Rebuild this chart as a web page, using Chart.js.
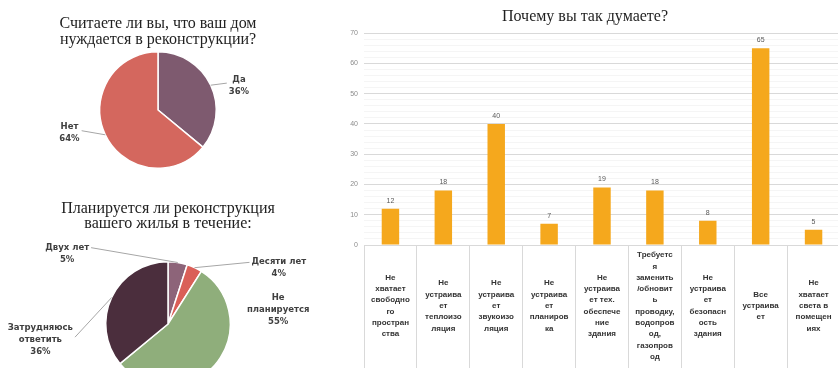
<!DOCTYPE html>
<html>
<head>
<meta charset="utf-8">
<script src="https://cdn.jsdelivr.net/npm/chart.js@4"></script>
<style>
  html, body { margin: 0; padding: 0; width: 838px; height: 368px; overflow: hidden; background: #fff; }
  canvas { position: absolute; display: block; }
</style>
</head>
<body>
<canvas id="pieNeed" width="320" height="185" style="left:0;top:0"></canvas>
<canvas id="piePlan" width="340" height="197" style="left:0;top:190px"></canvas>
<canvas id="barWhy" width="510" height="372" style="left:330px;top:0"></canvas>
<script>
// Survey answers
const needTitle = ['Считаете ли вы, что ваш дом', 'нуждается в реконструкции?'];
const needLabels = [['Да'], ['Нет']];
const needValues = [36, 64];

const planTitle = ['Планируется ли реконструкция', 'вашего жилья в течение:'];
const planLabels = [['Двух лет'], ['Десяти лет'], ['Не', 'планируется'], ['Затрудняюсь', 'ответить']];
const planValues = [5, 4, 55, 36];

const whyTitle = 'Почему вы так думаете?';
const whyLabels = [
  ['Не', 'хватает', 'свободно', 'го', 'простран', 'ства'],
  ['Не', 'устраива', 'ет', 'теплоизо', 'ляция'],
  ['Не', 'устраива', 'ет', 'звукоизо', 'ляция'],
  ['Не', 'устраива', 'ет', 'планиров', 'ка'],
  ['Не', 'устраива', 'ет тех.', 'обеспече', 'ние', 'здания'],
  ['Требуетс', 'я', 'заменить', '/обновит', 'ь', 'проводку,', 'водопров', 'од,', 'газопров', 'од'],
  ['Не', 'устраива', 'ет', 'безопасн', 'ость', 'здания'],
  ['Все', 'устраива', 'ет'],
  ['Не', 'хватает', 'света в', 'помещен', 'иях']
];
const whyValues = [12, 18, 40, 7, 19, 18, 8, 65, 5];
const whyMax = 70;

// Slice labels with leader lines, placed relative to the pie centre (in radii)
const pieLabels = {
  id: 'pieLabels',
  afterDatasetsDraw(chart, args, opts) {
    const ctx = chart.ctx;
    const meta = chart.getDatasetMeta(0);
    const values = chart.data.datasets[0].data;
    ctx.save();
    ctx.font = opts.font;
    ctx.textAlign = 'center';
    ctx.textBaseline = 'middle';
    meta.data.forEach((arc, i) => {
      const p = opts.places[i];
      const r = arc.outerRadius;
      const cx = arc.x + p.dx * r;
      const cy = arc.y + p.dy * r;
      const lines = [...chart.data.labels[i], values[i] + '%'];
      const top = cy - (lines.length - 1) * opts.lineHeight / 2;
      if (p.leader) {
        const mid = (arc.startAngle + arc.endAngle) / 2;
        const ax = arc.x + Math.cos(mid) * r;
        const ay = arc.y + Math.sin(mid) * r;
        const w = Math.max(...lines.map(t => ctx.measureText(t).width));
        const ex = cx > ax ? cx - w / 2 - 2 : cx + w / 2 + 2;
        ctx.strokeStyle = opts.lineColor;
        ctx.lineWidth = 1;
        ctx.beginPath();
        ctx.moveTo(ax, ay);
        ctx.lineTo(ex, cy + p.ly);
        ctx.stroke();
      }
      ctx.fillStyle = opts.color;
      lines.forEach((t, k) => ctx.fillText(t, cx, top + k * opts.lineHeight));
    });
    ctx.restore();
  }
};

// Value printed above each bar
const barValues = {
  id: 'barValues',
  afterDatasetsDraw(chart) {
    const ctx = chart.ctx;
    const meta = chart.getDatasetMeta(0);
    const data = chart.data.datasets[0].data;
    ctx.save();
    ctx.font = '7px "Liberation Sans", Arial, sans-serif';
    ctx.fillStyle = '#595959';
    ctx.textAlign = 'center';
    ctx.textBaseline = 'middle';
    meta.data.forEach((bar, i) => ctx.fillText(String(data[i]), bar.x, bar.y - 8));
    ctx.restore();
  }
};

const serif = '"Liberation Serif", "DejaVu Serif", serif';
const labelFont = 'bold 8.5px "DejaVu Sans", sans-serif';

function pieChart(id, labels, values, colors, title, titlePad, lineH, padding, places) {
  return new Chart(document.getElementById(id), {
    type: 'pie',
    data: {
      labels: labels,
      datasets: [{ data: values, backgroundColor: colors, borderColor: '#ffffff', borderWidth: 1.5 }]
    },
    options: {
      responsive: false,
      animation: false,
      layout: { padding: padding },
      plugins: {
        legend: { display: false },
        tooltip: { enabled: false },
        title: {
          display: true,
          text: title,
          color: '#222222',
          font: { family: serif, size: 16, weight: 'normal', lineHeight: lineH },
          padding: titlePad
        },
        pieLabels: { font: labelFont, color: '#404040', lineColor: '#a6a6a6', lineHeight: 12, places: places }
      }
    },
    plugins: [pieLabels]
  });
}

pieChart('pieNeed', needLabels, needValues, ['#7E5A6F', '#D4675E'], needTitle,
  { top: 16, bottom: 3 }, '16px', { left: 0, right: 4, top: 0, bottom: 16 },
  [
    { dx: 1.39, dy: -0.41, leader: true, ly: -3 },
    { dx: -1.52, dy: 0.39, leader: true, ly: -2 }
  ]);

pieChart('piePlan', planLabels, planValues, ['#8D6479', '#DA5F58', '#8FAE7B', '#4B2E3D'], planTitle,
  { top: 11.5, bottom: 29.5 }, '15px', { left: 0, right: 4, top: 0, bottom: 0 },
  [
    { dx: -1.62, dy: -1.13, leader: true, ly: -6 },
    { dx: 1.78, dy: -0.91, leader: true, ly: -5 },
    { dx: 1.77, dy: -0.23, leader: false },
    { dx: -2.05, dy: 0.26, leader: true, ly: -3 }
  ]);

new Chart(document.getElementById('barWhy'), {
  type: 'bar',
  data: {
    labels: whyLabels,
    datasets: [{ data: whyValues, backgroundColor: '#F5A81D', barPercentage: 0.33, categoryPercentage: 1 }]
  },
  options: {
    responsive: false,
    animation: false,
    layout: { padding: 0 },
    plugins: {
      legend: { display: false },
      tooltip: { enabled: false },
      title: {
        display: true,
        text: whyTitle,
        color: '#1f1f1f',
        font: { family: serif, size: 16, weight: 'normal' },
        padding: { top: 7, bottom: 7 }
      }
    },
    scales: {
      x: {
        grid: { drawOnChartArea: false, drawTicks: true, tickLength: 127, color: '#d9d9d9', offset: true },
        border: { color: '#d9d9d9' },
        ticks: {
          autoSkip: false, maxRotation: 0, minRotation: 0,
          crossAlign: 'center', padding: -117,
          color: '#333333',
          font: { family: '"Liberation Sans", Arial, sans-serif', size: 8, weight: 'bold', lineHeight: '11.3px' }
        },
        afterFit(scale) { scale.height = 127; }
      },
      y: {
        min: 0, max: whyMax,
        border: { display: false },
        grid: {
          drawTicks: false,
          color: c => (c.tick && c.tick.value % 10 === 0) ? '#d9d9d9' : '#f5f5f5'
        },
        ticks: {
          stepSize: 2, autoSkip: false, padding: 6,
          color: '#8c8c8c',
          font: { family: '"Liberation Sans", Arial, sans-serif', size: 7 },
          callback: v => (v % 10 === 0 ? v : '')
        },
        afterFit(scale) { scale.width = 34; }
      }
    }
  },
  plugins: [barValues]
});
</script>
</body>
</html>
